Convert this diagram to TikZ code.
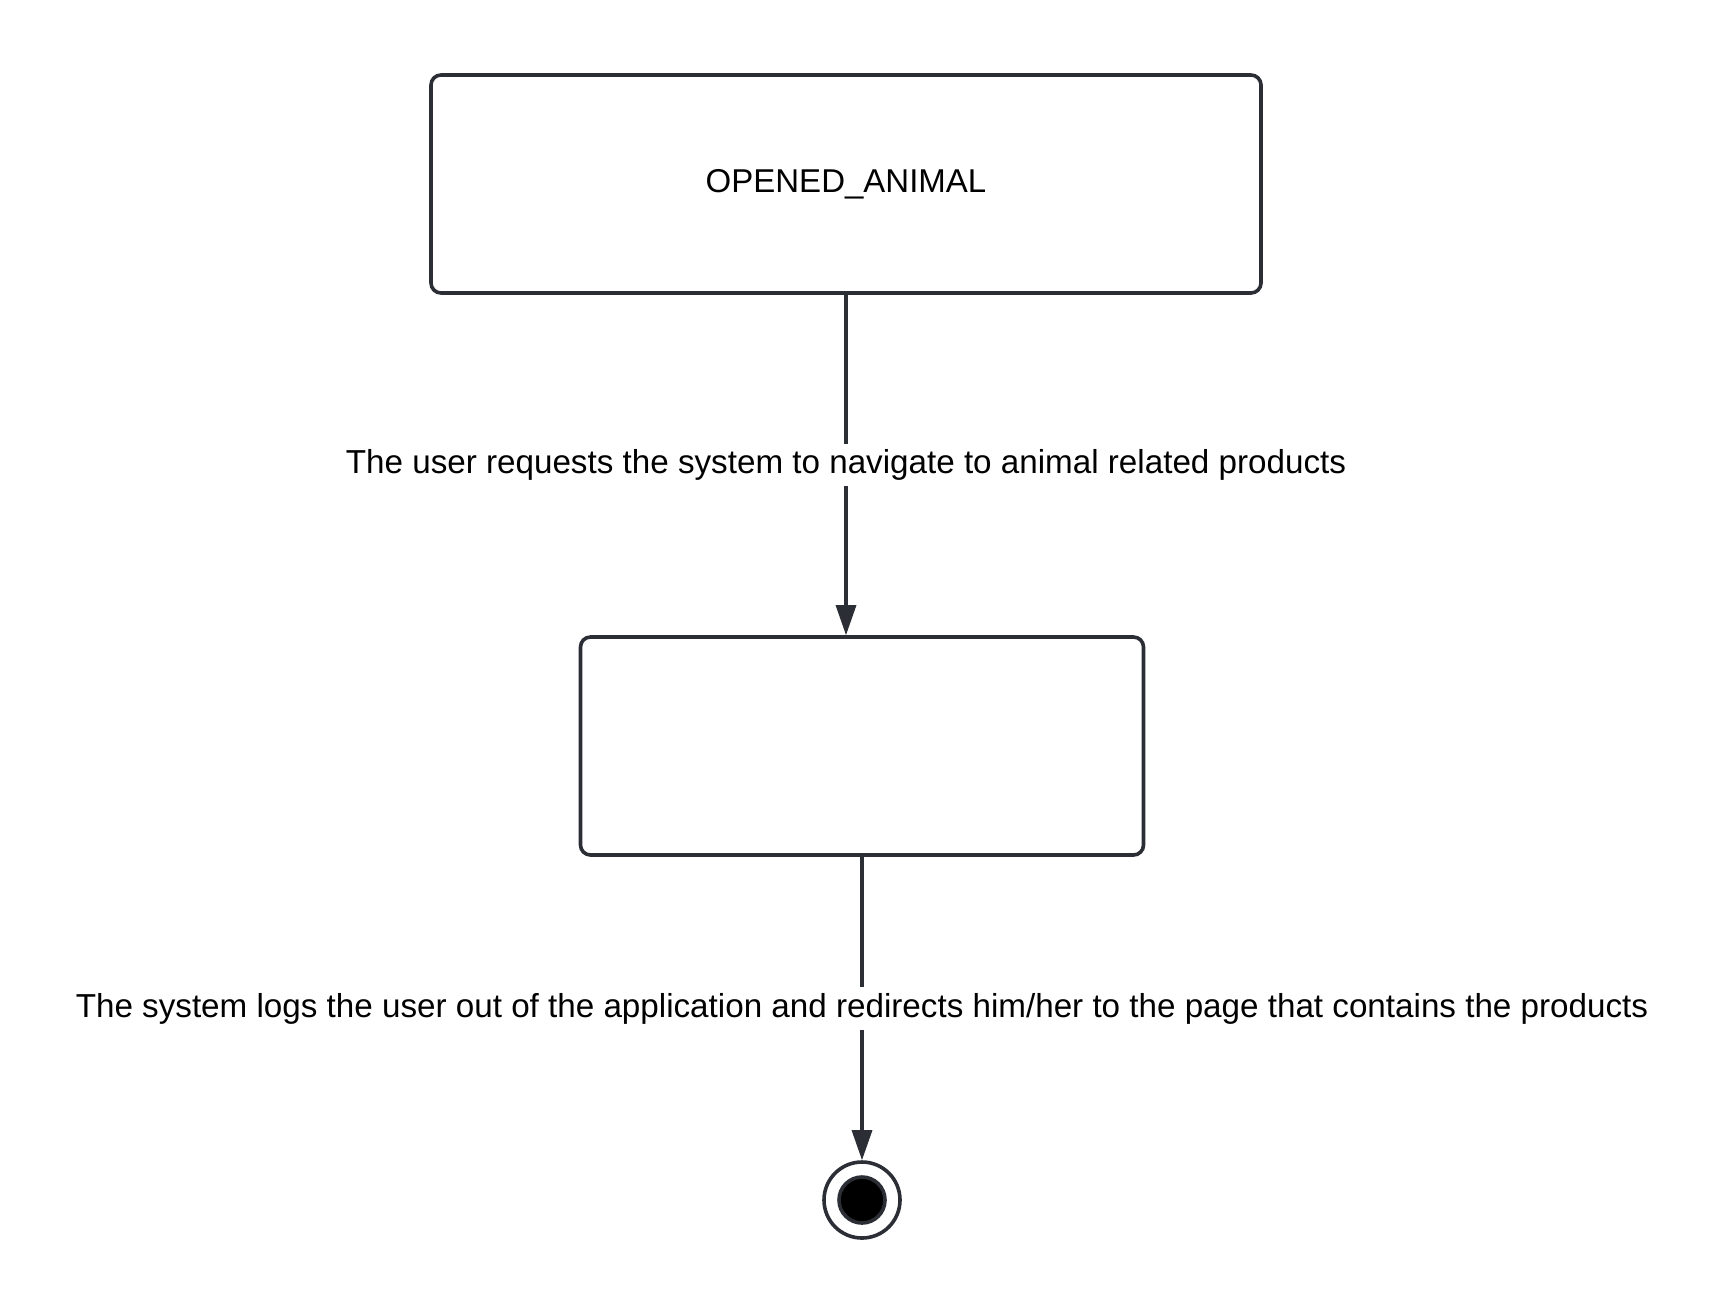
\documentclass[tikz,border=0pt]{standalone}
\usepackage{fontspec}
\setmainfont{Liberation Sans}
\usetikzlibrary{arrows.meta}
\definecolor{linegray}{HTML}{2B2E35}
\tikzset{
  state/.style={draw=linegray, line width=1.8pt, rounded corners=5pt, fill=white},
  trans/.style={draw=linegray, line width=1.6pt, -{Triangle[length=15pt, width=10pt]}},
  translabel/.style={fill=white, inner sep=3pt, font=\fontsize{16.6}{20}\selectfont}
}
\begin{document}
\begin{tikzpicture}[x=0.5pt, y=-0.5pt, line cap=round]
  \useasboundingbox (0,0) rectangle (1727,1313);
  % States.
  \node[state, minimum width=415pt, minimum height=109pt, font=\fontsize{16.5}{20}\selectfont] (opened) at (846,184) {\raisebox{3pt}{OPENED\_ANIMAL}};
  \node[state, minimum width=281.5pt, minimum height=109pt] (products) at (862,746) {};
  % Final state.
  \node[circle, draw=linegray, line width=1.8pt, minimum size=38pt, inner sep=0pt] (final) at (862,1200) {};
  \fill[black, draw=linegray, line width=1.8pt] (final.center) circle (11.5pt);
  % Transitions.
  \draw[trans] (opened.south) -- node[translabel] {The user requests the system to navigate to animal related products} (opened.south |- products.north);
  \draw[trans] (products.south) -- node[translabel] {The system logs the user out of the application and redirects him/her to the page that contains the products} (final.north);
\end{tikzpicture}
\end{document}
